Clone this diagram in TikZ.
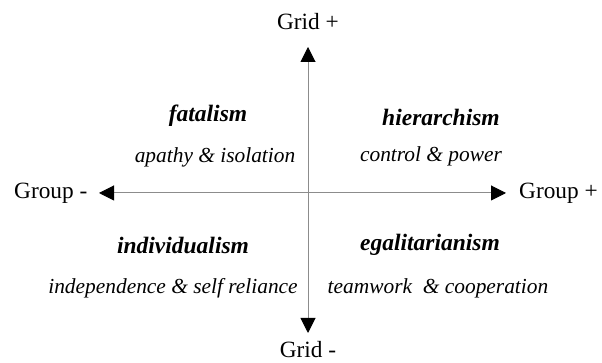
\documentclass[tikz,border=0pt]{standalone}
\usepackage{fontspec}
\setmainfont{Liberation Serif}
\usetikzlibrary{arrows.meta}
\begin{document}
\begin{tikzpicture}[x=1pt,y=1pt,
  axis/.style={draw=black!45,line width=1pt,-{Triangle[length=15pt,width=15pt,color=black]}},
  lbl/.style={inner sep=0pt,font=\fontsize{23.3}{27}\selectfont},
  ttl/.style={inner sep=0pt,font=\fontsize{23.5}{27}\selectfont\bfseries\itshape},
  sub/.style={inner sep=0pt,font=\fontsize{21.4}{25}\selectfont\itshape}]
\useasboundingbox (0,0) rectangle (602,363);
\coordinate (c) at (308,170);
\coordinate (top) at (308,316);
\coordinate (bot) at (308,30);
\coordinate (left) at (99,170);
\coordinate (right) at (506,170);
\draw[axis] (c) -- (top);
\draw[axis] (c) -- (bot);
\draw[axis] (c) -- (left);
\draw[axis] (c) -- (right);
\node[lbl] (gp) at (308,341) {Grid +};
\node[lbl] (gm) at (308,13) {Grid -};
\node[lbl,anchor=west] (grm) at (14,170) {Group -};
\node[lbl,anchor=west] (grp) at (519,170) {Group +};
\node[ttl] (fat) at (208,247) {fatalism};
\node[sub] (fats) at (215,206) {apathy \& isolation};
\node[ttl] (hie) at (441,246) {hierarchism};
\node[sub] (hies) at (431,207) {control \& power};
\node[ttl] (ind) at (183,118) {individualism};
\node[sub] (inds) at (173,75) {independence \& self reliance};
\node[ttl] (ega) at (430,118) {egalitarianism};
\node[sub] (egas) at (438,75) {teamwork\ \ \& cooperation};
\end{tikzpicture}
\end{document}
